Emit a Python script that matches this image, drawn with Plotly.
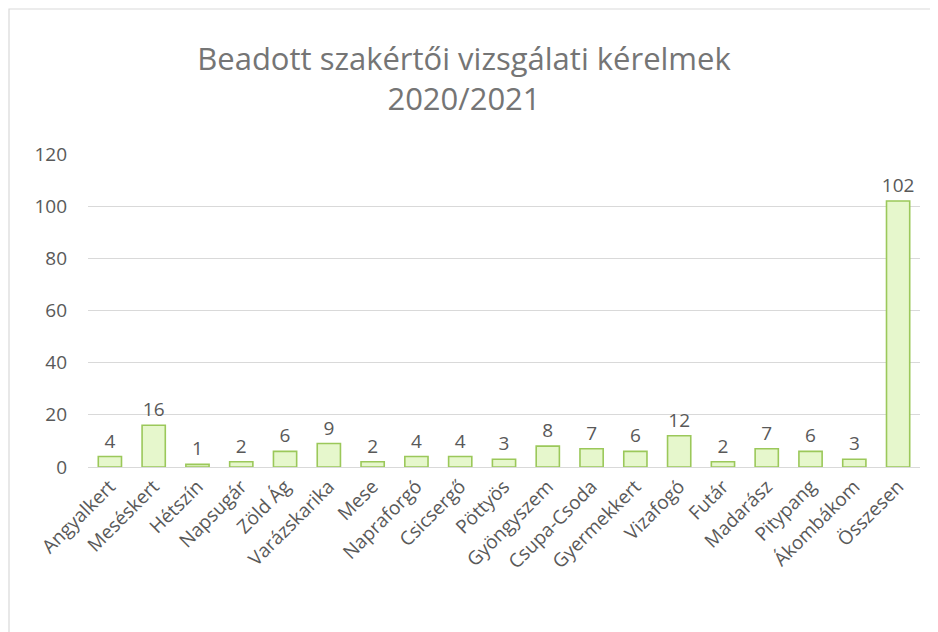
import plotly.graph_objects as go

# adatok
ovodak = ["Angyalkert", "Meséskert", "Hétszín", "Napsugár", "Zöld Ág", "Varázskarika",
          "Mese", "Napraforgó", "Csicsergő", "Pöttyös", "Gyöngyszem", "Csupa-Csoda",
          "Gyermekkert", "Vizafogó", "Futár", "Madarász", "Pitypang", "Ákombákom", "Összesen"]
kerelmek = [4, 16, 1, 2, 6, 9, 2, 4, 4, 3, 8, 7, 6, 12, 2, 7, 6, 3, 102]
y_ticks = [0, 20, 40, 60, 80, 100, 120]

# az oldal 8px-es body margóval jelenik meg, ezért kicsit kisebb ábra
W, H = 930, 624
ML, MR, MT, MB = 80, 18, 146, 165
PW, PH = W - ML - MR, H - MT - MB
GRAY = "#595959"

fig = go.Figure()

fig.add_trace(go.Bar(
    x=ovodak,
    y=kerelmek,
    text=kerelmek,
    textposition="outside",
    constraintext="none",
    textfont=dict(size=19, color=GRAY),
    cliponaxis=False,
    marker=dict(color="#e6f7cc", line=dict(color="#9bc85a", width=1.6)),
    showlegend=False,
))

# keret a diagram körül
fig.add_shape(
    type="rect", xref="paper", yref="paper",
    x0=-(ML - 1) / PW, x1=1 + (MR + 20) / PW,
    y0=-(MB + 20) / PH, y1=1 + (MT - 1) / PH,
    line=dict(color="#d9d9d9", width=1.2), fillcolor="rgba(0,0,0,0)", layer="below",
)

fig.update_layout(
    width=W, height=H,
    margin=dict(l=ML, r=MR, t=MT, b=MB, autoexpand=False),
    paper_bgcolor="white", plot_bgcolor="white",
    font=dict(family="Open Sans, sans-serif", color=GRAY),
    title=dict(
        text="Beadott szakértői vizsgálati kérelmek<br>2020/2021",
        x=456 / W, xref="container", xanchor="center",
        y=1 - 62 / H, yanchor="middle",
        font=dict(size=31, color="#757575"),
    ),
    bargap=0.47,
    xaxis=dict(
        tickangle=-45,
        tickfont=dict(size=19, color=GRAY),
        showline=True, linecolor="#d9d9d9", linewidth=1,
        ticks="", showgrid=False, automargin=False,
    ),
    yaxis=dict(
        range=[0, 120],
        tickvals=y_ticks,
        tickfont=dict(size=19, color=GRAY),
        showgrid=True, gridcolor="#d9d9d9", gridwidth=1,
        zeroline=False, ticks="", ticklabelstandoff=20, automargin=False,
    ),
)

fig.write_html("out.html")
